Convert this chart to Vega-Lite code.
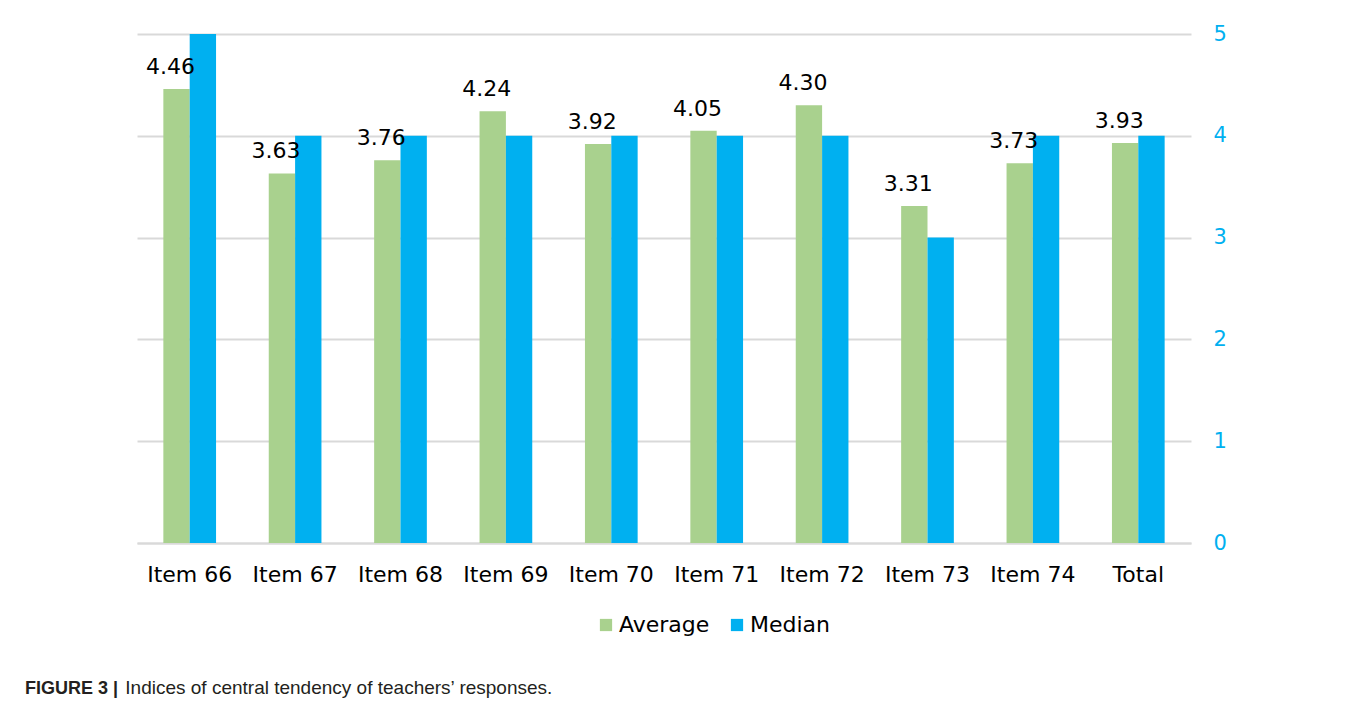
{
  "$schema": "https://vega.github.io/schema/vega-lite/v6.json",
  "autosize": "none",
  "width": 1054,
  "height": 509,
  "padding": {"left": 137, "top": 34, "right": 166, "bottom": 160},
  "background": "white",
  "config": {
    "view": {"stroke": null},
    "font": "DejaVu Sans"
  },
  "title": {
    "text": "FIGURE 3 |",
    "subtitle": "\u200b\u00a0\u00a0\u00a0\u00a0\u00a0\u00a0\u00a0\u00a0\u00a0\u00a0\u00a0\u00a0\u00a0\u00a0\u00a0\u00a0\u00a0\u00a0\u00a0Indices of central tendency of teachers\u2019 responses.",
    "orient": "bottom",
    "anchor": "start",
    "frame": "group",
    "dx": -112,
    "offset": 44,
    "font": "Liberation Sans",
    "fontSize": 18,
    "fontWeight": "bold",
    "color": "#231f20",
    "subtitleFont": "Liberation Sans",
    "subtitleFontSize": 19,
    "subtitleFontWeight": "normal",
    "subtitleColor": "#231f20",
    "subtitlePadding": -19,
    "baseline": "top"
  },
  "data": {
    "values": [
      {"item": "Item 66", "series": "Average", "value": 4.46},
      {"item": "Item 66", "series": "Median", "value": 5},
      {"item": "Item 67", "series": "Average", "value": 3.63},
      {"item": "Item 67", "series": "Median", "value": 4},
      {"item": "Item 68", "series": "Average", "value": 3.76},
      {"item": "Item 68", "series": "Median", "value": 4},
      {"item": "Item 69", "series": "Average", "value": 4.24},
      {"item": "Item 69", "series": "Median", "value": 4},
      {"item": "Item 70", "series": "Average", "value": 3.92},
      {"item": "Item 70", "series": "Median", "value": 4},
      {"item": "Item 71", "series": "Average", "value": 4.05},
      {"item": "Item 71", "series": "Median", "value": 4},
      {"item": "Item 72", "series": "Average", "value": 4.30},
      {"item": "Item 72", "series": "Median", "value": 4},
      {"item": "Item 73", "series": "Average", "value": 3.31},
      {"item": "Item 73", "series": "Median", "value": 3},
      {"item": "Item 74", "series": "Average", "value": 3.73},
      {"item": "Item 74", "series": "Median", "value": 4},
      {"item": "Total", "series": "Average", "value": 3.93},
      {"item": "Total", "series": "Median", "value": 4}
    ]
  },
  "encoding": {
    "x": {
      "field": "item",
      "type": "nominal",
      "sort": null,
      "scale": {"paddingInner": 0.5, "paddingOuter": 0.25},
      "axis": {
        "title": null,
        "labelAngle": 0,
        "labelFontSize": 22,
        "labelColor": "#000000",
        "labelPadding": 21,
        "ticks": false,
        "domainColor": "#d9d9d9",
        "domainWidth": 2
      }
    },
    "xOffset": {"field": "series", "type": "nominal", "sort": ["Average", "Median"], "scale": {"paddingInner": 0, "paddingOuter": 0}},
    "y": {
      "field": "value",
      "type": "quantitative",
      "scale": {"domain": [0, 5]},
      "axis": {
        "orient": "right",
        "title": null,
        "values": [0, 1, 2, 3, 4, 5],
        "labelFontSize": 21,
        "labelColor": "#00b0f0",
        "labelPadding": 22,
        "ticks": false,
        "domain": false,
        "gridColor": "#d9d9d9",
        "gridWidth": 2
      }
    }
  },
  "layer": [
    {
      "mark": {"type": "bar"},
      "encoding": {
        "color": {
          "field": "series",
          "type": "nominal",
          "sort": ["Average", "Median"],
          "scale": {"domain": ["Average", "Median"], "range": ["#a9d18e", "#00b0f0"]},
          "legend": {
            "title": null,
            "orient": "none",
            "legendX": 458,
            "legendY": 580,
            "padding": 0,
            "direction": "horizontal",
            "symbolType": "square",
            "symbolSize": 150,
            "symbolStrokeWidth": 0,
            "labelFontSize": 22,
            "labelColor": "#000000",
            "columnPadding": 16,
            "labelOffset": 2
          }
        }
      }
    },
    {
      "transform": [{"filter": "datum.series === 'Average'"}],
      "mark": {"type": "text", "baseline": "bottom", "dy": -10, "dx": -6, "fontSize": 22, "color": "#000000"},
      "encoding": {
        "text": {"field": "value", "type": "quantitative", "format": ".2f"}
      }
    }
  ]
}
